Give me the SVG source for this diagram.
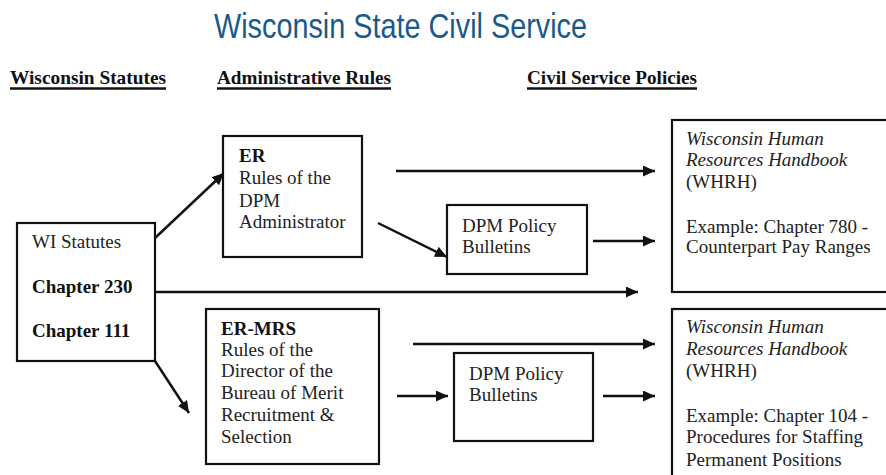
<svg xmlns="http://www.w3.org/2000/svg" width="886" height="475" viewBox="0 0 886 475">
  <defs>
    <marker id="arrow" viewBox="0 0 12 11" refX="12" refY="5.5" markerWidth="12" markerHeight="11" markerUnits="userSpaceOnUse" orient="auto">
      <path d="M0,0 L12,5.5 L0,11 Z" fill="#111"/>
    </marker>
    <style>
      .title { font-family: "Liberation Sans", Arial, sans-serif; font-size: 35px; fill: #1a5a8a; }
      .head { font-family: "Liberation Serif", "Times New Roman", serif; font-size: 19px; font-weight: bold; fill: #111; }
      .uline { stroke: #111; stroke-width: 2.5; }
      .box { fill: #fff; stroke: #111; stroke-width: 2.2; }
      .txt { font-family: "Liberation Serif", "Times New Roman", serif; font-size: 19px; fill: #222; }
      .b { font-weight: bold; fill: #111; }
      .i { font-style: italic; }
      .conn { stroke: #111; stroke-width: 2.5; fill: none; marker-end: url(#arrow); }
    </style>
  </defs>
  <rect width="886" height="475" fill="#fff"/>

  <!-- title -->
  <text class="title" x="214" y="38" textLength="373" lengthAdjust="spacingAndGlyphs">Wisconsin State Civil Service</text>

  <!-- column headings -->
  <g id="headings">
    <text class="head" x="10" y="84" textLength="156" lengthAdjust="spacingAndGlyphs">Wisconsin Statutes</text>
    <line class="uline" x1="10" y1="88.5" x2="166" y2="88.5"/>
    <text class="head" x="217" y="84" textLength="174" lengthAdjust="spacingAndGlyphs">Administrative Rules</text>
    <line class="uline" x1="217" y1="88.5" x2="391" y2="88.5"/>
    <text class="head" x="527" y="84" textLength="170" lengthAdjust="spacingAndGlyphs">Civil Service Policies</text>
    <line class="uline" x1="527" y1="88.5" x2="697" y2="88.5"/>
  </g>

  <!-- connectors -->
  <g id="connectors">
    <line class="conn" x1="155" y1="238" x2="224" y2="173"/>
    <line class="conn" x1="378" y1="223" x2="447" y2="257"/>
    <line class="conn" x1="396" y1="171" x2="655" y2="171"/>
    <line class="conn" x1="593" y1="241" x2="655" y2="241"/>
    <line class="conn" x1="155" y1="292" x2="638" y2="292"/>
    <line class="conn" x1="155" y1="361" x2="189" y2="413"/>
    <line class="conn" x1="413" y1="344" x2="655" y2="344"/>
    <line class="conn" x1="397" y1="396" x2="448" y2="396"/>
    <line class="conn" x1="603" y1="396" x2="655" y2="396"/>
  </g>

  <!-- statutes -->
  <g id="wi-statutes">
    <rect class="box" x="17" y="223" width="138" height="138"/>
    <text class="txt" x="32" y="248">WI Statutes</text>
    <text class="txt b" x="32" y="293">Chapter 230</text>
    <text class="txt b" x="32" y="337">Chapter 111</text>
  </g>

  <!-- administrative rules -->
  <g id="er">
    <rect class="box" x="223" y="136" width="139" height="121"/>
    <text class="txt b" x="239" y="162">ER</text>
    <text class="txt" x="239" y="184">Rules of the</text>
    <text class="txt" x="239" y="207">DPM</text>
    <text class="txt" x="239" y="228">Administrator</text>
  </g>

  <g id="er-mrs">
    <rect class="box" x="206" y="309" width="173" height="155"/>
    <text class="txt b" x="221" y="335">ER-MRS</text>
    <text class="txt" x="221" y="356">Rules of the</text>
    <text class="txt" x="221" y="377">Director of the</text>
    <text class="txt" x="221" y="399">Bureau of Merit</text>
    <text class="txt" x="221" y="421">Recruitment &amp;</text>
    <text class="txt" x="221" y="443">Selection</text>
  </g>

  <!-- policy bulletins -->
  <g id="dpm-bulletins-1">
    <rect class="box" x="447" y="205" width="140" height="69"/>
    <text class="txt" x="462" y="232">DPM Policy</text>
    <text class="txt" x="462" y="253">Bulletins</text>
  </g>

  <g id="dpm-bulletins-2">
    <rect class="box" x="454" y="353" width="139" height="88"/>
    <text class="txt" x="469" y="380">DPM Policy</text>
    <text class="txt" x="469" y="401">Bulletins</text>
  </g>

  <!-- handbook -->
  <g id="whrh-1">
    <rect class="box" x="672" y="120" width="230" height="172"/>
    <text class="txt i" x="686" y="145">Wisconsin Human</text>
    <text class="txt i" x="686" y="166">Resources Handbook</text>
    <text class="txt" x="686" y="188">(WHRH)</text>
    <text class="txt" x="686" y="233">Example: Chapter 780 -</text>
    <text class="txt" x="686" y="253">Counterpart Pay Ranges</text>
  </g>

  <g id="whrh-2">
    <rect class="box" x="672" y="309" width="230" height="200"/>
    <text class="txt i" x="686" y="333">Wisconsin Human</text>
    <text class="txt i" x="686" y="355">Resources Handbook</text>
    <text class="txt" x="686" y="377">(WHRH)</text>
    <text class="txt" x="686" y="422">Example: Chapter 104 -</text>
    <text class="txt" x="686" y="443">Procedures for Staffing</text>
    <text class="txt" x="686" y="466">Permanent Positions</text>
  </g>
</svg>
